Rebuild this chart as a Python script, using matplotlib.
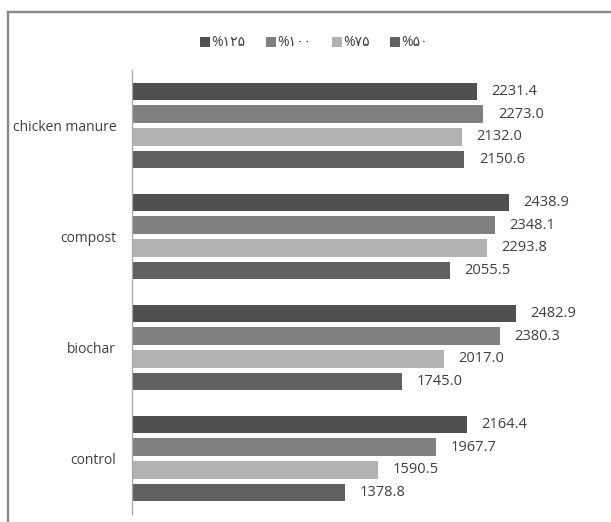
import matplotlib
matplotlib.use("Agg")
import matplotlib.pyplot as plt
import numpy as np
from matplotlib.lines import Line2D
from matplotlib.patches import Patch

# Data (top to bottom)
categories = ["chicken manure", "compost", "biochar", "control"]
series_labels = ["%۱۲۵", "%۱۰۰", "%۷۵", "%۵۰"]
v125 = [2231.4, 2438.9, 2482.9, 2164.4]
v100 = [2273.0, 2348.1, 2380.3, 1967.7]
v75 = [2132.0, 2293.8, 2017.0, 1590.5]
v50 = [2150.6, 2055.5, 1745.0, 1378.8]

series = [v125, v100, v75, v50]
colors = ["#505050", "#808080", "#b2b2b2", "#616161"]

plt.rcParams['font.family'] = ['Open Sans', 'DejaVu Sans']

W, H = 611, 522
fig = plt.figure(figsize=(W / 100, H / 100), dpi=100)
ax = fig.add_axes([131.5 / W, 1 - 514 / H, 464.4 / W, 444 / H])

y = np.arange(len(categories))
pitch = 0.203
height = 0.158
offsets = [-1.5 * pitch, -0.5 * pitch, 0.5 * pitch, 1.5 * pitch]

for vals, col, off in zip(series, colors, offsets):
    bars = ax.barh(y + off, vals, height=height, color=col, edgecolor='none')
    ax.bar_label(bars, labels=[f"{v:.1f}" for v in vals], padding=10.5,
                 fontsize=10.5, color="#404040")

ax.set_xlim(0, 3000)
ax.set_ylim(3.5, -0.5)
ax.set_yticks(y)
ax.set_yticklabels(categories, fontsize=10, color="#404040")
ax.tick_params(axis='y', length=0, pad=11)
ax.set_xticks([])
for s in ['top', 'right', 'bottom']:
    ax.spines[s].set_visible(False)
ax.spines['left'].set_color('#a6a6a6')
ax.spines['left'].set_linewidth(0.9)

handles = [Patch(facecolor=c, edgecolor='none') for c in colors]
leg = fig.legend(handles, series_labels, loc='center', bbox_to_anchor=(314 / W, 1 - 43 / H),
                 ncol=4, frameon=False, fontsize=10, handlelength=0.7, handleheight=0.7,
                 handletextpad=0.1, columnspacing=1.5)
for t in leg.get_texts():
    t.set_color("#404040")

# chart frame (top and left edges visible)
fig.add_artist(Line2D([8.3 / W, 8.3 / W], [0, 1 - 11.5 / H], transform=fig.transFigure,
                      color='#898989', lw=1.7))
fig.add_artist(Line2D([8.3 / W, 1], [1 - 11.5 / H, 1 - 11.5 / H], transform=fig.transFigure,
                      color='#898989', lw=1.7))

fig.savefig("out.png", dpi=100)
